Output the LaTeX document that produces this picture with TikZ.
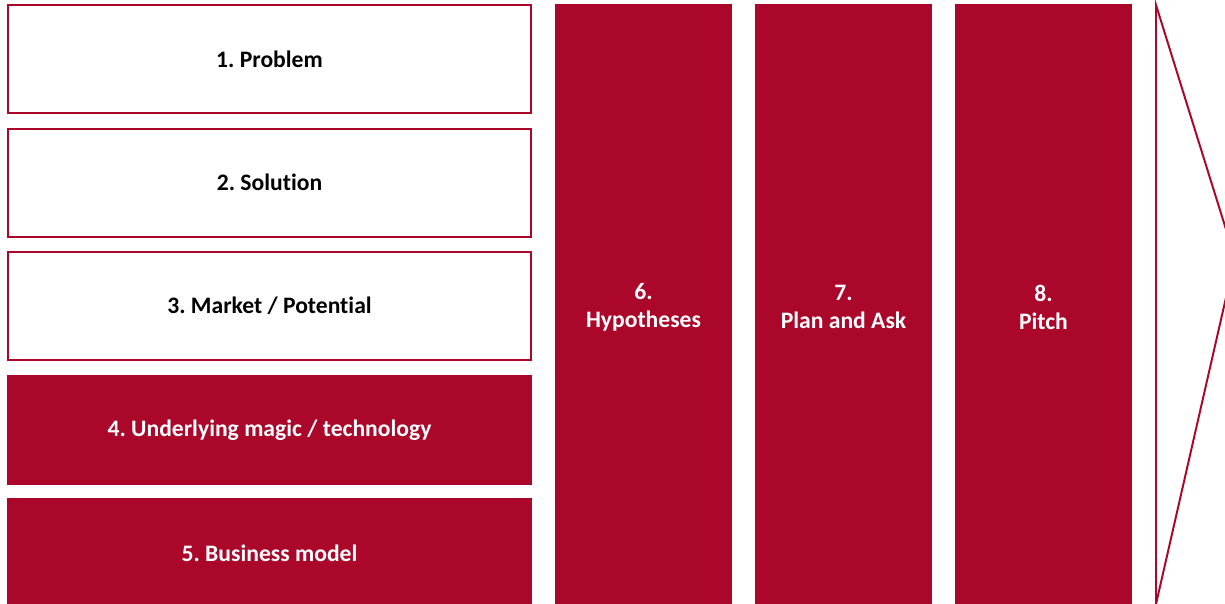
\documentclass[tikz,border=0pt]{standalone}
\usepackage{fontspec}
\setmainfont{Carlito}[Ligatures=NoCommon]
\usepackage{tikz}
\usetikzlibrary{positioning}
\usetikzlibrary{calc}
\definecolor{canvasred}{RGB}{170,7,42}
\frenchspacing
\tikzset{
  % common look of the canvas blocks
  part/.style={draw=canvasred, line width=1.3pt, rectangle, outer sep=0pt,
    minimum width=13.075cm, minimum height=2.7cm, font=\fontsize{16.8}{19}\selectfont\bfseries},
  plain/.style={part, fill=white, text=black},
  filled/.style={part, fill=canvasred, text=white},
  column/.style={draw=canvasred, fill=canvasred, line width=1.3pt, rectangle, outer sep=0pt,
    minimum width=4.375cm, minimum height=15.1cm, text=white, align=center,
    font=\fontsize{16.8}{20}\selectfont\bfseries}
}

\begin{document}
\begin{tikzpicture}[node distance=0.39cm]
    \useasboundingbox (0,0) rectangle (30.625,-15.1);
    \clip (0,0) rectangle (30.625,-15.1);

    % Left stack
    \node [plain, anchor=north west] (problem) at (0.2,-0.125) {1. Problem};
    \node [plain, below=of problem] (solution) {2. Solution};
    \node [plain, below=of solution] (market) {3. Market / Potential};
    \node [filled, below=of market] (magic) {4. Underlying magic / technology};
    \node [filled, below=of magic] (business) {5. Business model};

    % Columns
    \node [column, right=0.625cm of problem.north east, anchor=north west] (hypotheses) {6.\\Hypotheses};
    \node [column, right=0.625cm of hypotheses.north east, anchor=north west] (plan) {7.\\Plan and Ask};
    \node [column, right=0.625cm of plan.north east, anchor=north west] (pitch) {8.\\Pitch};

    % Arrow head
    \coordinate [right=0.625cm of pitch.north east] (arrowtop);
    \coordinate (arrowbot) at (arrowtop |- 0,-15.1);
    \coordinate (arrowtip) at ($(arrowtop)+(1.975,-6.33)$);
    \draw [canvasred, line width=1.4pt, line join=miter] (arrowtop) -- (arrowtip) -- (arrowbot) -- cycle;
\end{tikzpicture}
\end{document}
